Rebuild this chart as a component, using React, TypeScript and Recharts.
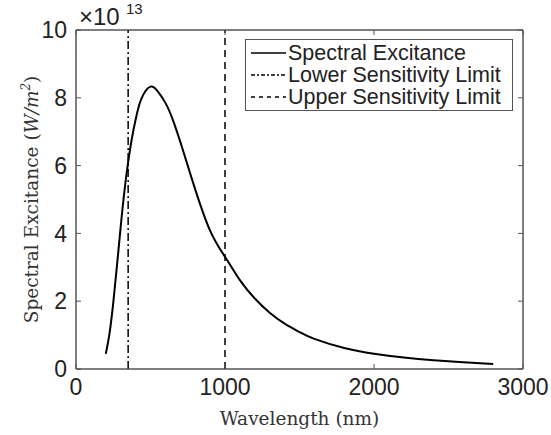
import React from "react"
import { Legend, Line, LineChart, ReferenceArea, ReferenceLine, XAxis, YAxis, Label } from "recharts"

// wavelength (nm) and spectral excitance (x 10^13 W/m^2)
const wavelengths = [200, 225, 250, 275, 300, 325, 350, 375, 400, 425, 450, 475, 500, 525, 550, 600, 650, 700, 750, 800, 900, 1000, 1100, 1200, 1300, 1400, 1500, 1600, 1800, 2000, 2200, 2400, 2600, 2800]
const excitance = [0.45, 1.05, 1.95, 3.05, 4.2, 5.25, 6.1, 6.8, 7.35, 7.8, 8.08, 8.25, 8.33, 8.3, 8.18, 7.85, 7.35, 6.7, 6.0, 5.3, 4.08, 3.31, 2.62, 2.08, 1.66, 1.34, 1.09, 0.89, 0.62, 0.45, 0.34, 0.26, 0.2, 0.15]

const lowerLimit = 350
const upperLimit = 1000

const xTicks = [0, 1000, 2000, 3000]
const yTicks = [0, 2, 4, 6, 8, 10]

const legendLabels = ["Spectral Excitance", "Lower Sensitivity Limit", "Upper Sensitivity Limit"]
const legendDashes = ["", "4 2 2 2", "4 4"]

const data = wavelengths.map((w, i) => ({ w, e: excitance[i] }))

const sans = "'Liberation Sans', Arial, Helvetica, sans-serif"
const serif = "'DejaVu Serif', serif"
const axisColor = "#555"
const textColor = "#222"

function LegendBox() {
  return (
    <div
      style={{
        border: `1px solid ${axisColor}`,
        background: "#fff",
        boxSizing: "border-box",
        width: 268,
        padding: "2px 0 2px 5px",
        fontFamily: sans,
        fontSize: 21.5,
        color: textColor,
      }}
    >
      {legendLabels.map((label, i) => (
        <div key={label} style={{ display: "flex", alignItems: "center", height: 22, lineHeight: "22px" }}>
          <svg width={35} height={22} style={{ flex: "none" }}>
            <line x1={0} x2={35} y1={11} y2={11} stroke="#000" strokeWidth={1.5} strokeDasharray={legendDashes[i]} />
          </svg>
          <span style={{ marginLeft: 2, whiteSpace: "nowrap" }}>{label}</span>
        </div>
      ))}
    </div>
  )
}

const axisLine = { stroke: axisColor, strokeWidth: 1 }
const tickLine = { stroke: axisColor, strokeWidth: 1 }

function ExponentLabel({ viewBox }: any) {
  const x = viewBox.x + 3
  return (
    <g>
      <text x={x} y={25} fontFamily={sans} fontSize={24} fill={textColor}>
        ×10
      </text>
      <text x={x + 47} y={14} fontFamily={sans} fontSize={15} fill={textColor}>
        13
      </text>
    </g>
  )
}

export default function App() {
  return (
    <div style={{ position: "absolute", left: 0, top: 0, background: "#fff" }}>
      <LineChart width={551} height={435} data={data} margin={{ top: 29, right: 27, left: 0, bottom: 0 }}>
        <XAxis
          dataKey="w"
          type="number"
          domain={[0, 3000]}
          ticks={xTicks}
          interval={0}
          height={66}
          tickSize={-5}
          tickMargin={15}
          stroke={axisColor}
          axisLine={axisLine}
          tickLine={tickLine}
          tick={{ fontSize: 23, fill: textColor, fontFamily: sans }}
        >
          <Label
            content={({ viewBox }: any) => (
              <text
                x={viewBox.x + viewBox.width / 2}
                y={425}
                textAnchor="middle"
                style={{ fontFamily: serif, fontSize: 18.5 }}
                fill="#333"
              >
                Wavelength (nm)
              </text>
            )}
          />
        </XAxis>
        <XAxis
          xAxisId="top"
          dataKey="w"
          orientation="top"
          type="number"
          domain={[0, 3000]}
          ticks={xTicks}
          interval={0}
          height={1}
          tickSize={-5}
          tickFormatter={() => ""}
          stroke={axisColor}
          axisLine={axisLine}
          tickLine={tickLine}
        >
          <Label content={(props: any) => <ExponentLabel {...props} />} />
        </XAxis>
        <YAxis
          type="number"
          domain={[0, 10]}
          ticks={yTicks}
          interval={0}
          width={76}
          tickSize={-5}
          tickMargin={14}
          stroke={axisColor}
          axisLine={axisLine}
          tickLine={tickLine}
          tick={{ fontSize: 23, fill: textColor, fontFamily: sans }}
        >
          <Label
            content={({ viewBox }: any) => {
              const cx = 38
              const cy = viewBox.y + viewBox.height / 2
              return (
                <text
                  x={cx}
                  y={cy}
                  transform={`rotate(-90 ${cx} ${cy})`}
                  textAnchor="middle"
                  style={{ fontFamily: serif, fontSize: 18.5 }}
                  fill="#333"
                >
                  Spectral Excitance (<tspan fontStyle="italic">W/m</tspan>
                  <tspan fontStyle="italic" style={{ fontSize: 12 }} dy={-8}>2</tspan>
                  <tspan dy={8}>)</tspan>
                </text>
              )
            }}
          />
        </YAxis>
        <YAxis
          yAxisId="right"
          orientation="right"
          type="number"
          domain={[0, 10]}
          ticks={yTicks}
          interval={0}
          width={1}
          tickSize={-5}
          tickFormatter={() => ""}
          stroke={axisColor}
          axisLine={axisLine}
          tickLine={tickLine}
        />
        <ReferenceArea x1={0} x2={3000} y1={0} y2={10} fill="none" stroke={axisColor} strokeWidth={1} ifOverflow="visible" />
        <ReferenceLine x={lowerLimit} stroke="#000" strokeWidth={1.5} strokeDasharray="8 3 2 3" />
        <ReferenceLine x={upperLimit} stroke="#000" strokeWidth={1.5} strokeDasharray="7 5" />
        <Line
          type="natural"
          dataKey="e"
          stroke="#000"
          strokeWidth={2}
          dot={false}
          activeDot={false}
          isAnimationActive={false}
        />
        {/* hidden copy that keeps the top and right frame axes alive */}
        <Line
          xAxisId="top"
          yAxisId="right"
          dataKey="e"
          stroke="none"
          dot={false}
          activeDot={false}
          legendType="none"
          isAnimationActive={false}
        />
        <Legend
          layout="vertical"
          align="center"
          verticalAlign="middle"
          wrapperStyle={{ left: 245, top: 39, width: 268 }}
          content={() => <LegendBox />}
        />
      </LineChart>
    </div>
  )
}
